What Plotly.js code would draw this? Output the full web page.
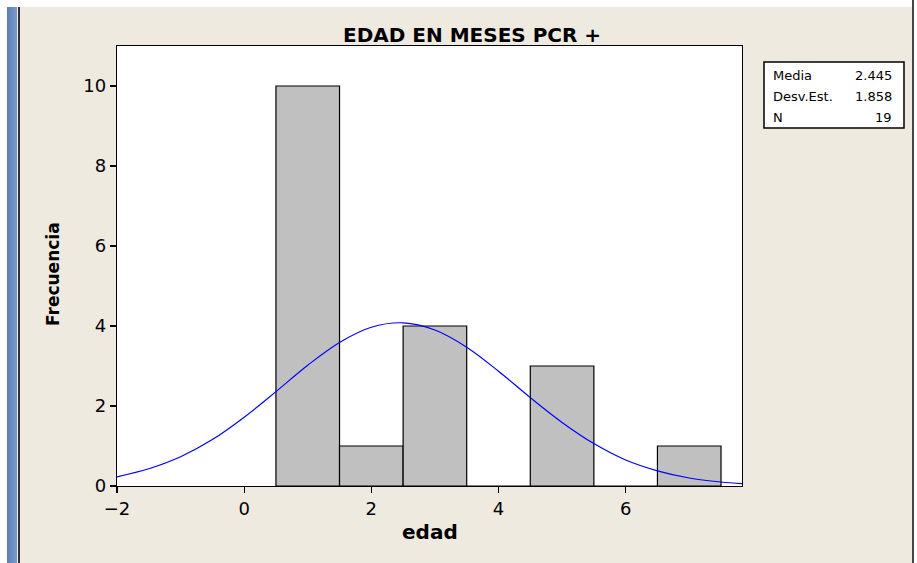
<!DOCTYPE html>
<html>
<head>
<meta charset="utf-8">
<script src="https://cdn.plot.ly/plotly-3.0.1.min.js"></script>
<style>
  html, body { margin:0; padding:0; background:#EEEAE0; }
  #wrap { position:relative; width:917px; height:563px; overflow:hidden; background:#EEEAE0; }
  #chart { position:absolute; left:0; top:0; width:917px; height:563px; }
  .deco { position:absolute; }
</style>
</head>
<body>
<div id="wrap">
  <div id="chart"></div>
  <div class="deco" style="left:0;top:0;width:917px;height:7px;background:#FFFFFF;"></div>
  <div class="deco" style="left:0;top:0;width:7px;height:563px;background:#FFFFFF;"></div>
  <div class="deco" style="left:7px;top:7px;width:10px;height:556px;background:linear-gradient(to right,#5A7FB5,#7C9CCB);"></div>
  <div class="deco" style="left:18px;top:7px;width:2px;height:556px;background:#333333;"></div>
  <div class="deco" style="left:912px;top:0;width:2px;height:563px;background:#444444;"></div>
  <div class="deco" style="left:914px;top:0;width:3px;height:563px;background:#FFFFFF;"></div>
</div>
<script>
// Histogram bins (centres) and counts
const binCenters = [1, 2, 3, 4, 5, 6, 7];
const counts = [10, 1, 4, 0, 3, 0, 1];

// Fitted normal curve
const curveX = [-2, -1.5, -1, -0.5, 0, 0.5, 1, 1.5, 2, 2.5, 3, 3.5, 4, 4.5, 5, 5.5, 6, 6.5, 7, 7.5, 7.83];
const curveY = [0.23, 0.43, 0.73, 1.16, 1.72, 2.36, 3.02, 3.59, 3.97, 4.08, 3.90, 3.47, 2.87, 2.21, 1.59, 1.06, 0.65, 0.38, 0.20, 0.10, 0.06];

// Stats box
const statLabels = ["Media", "Desv.Est.", "N"];
const statValues = ["2.445", "1.858", "19"];

const chartTitle = "EDAD EN MESES PCR +";
const xTitle = "edad";
const yTitle = "Frecuencia";

const L = 117, R = 742, T = 46, B = 486;
const px = x => (x - L) / (R - L);
const py = y => (B - y) / (B - T);

const font = "Tahoma, 'DejaVu Sans', sans-serif";

const traces = [
  {
    type: 'bar', x: binCenters, y: counts, width: 1,
    marker: { color: '#C0C0C0', line: { color: '#000000', width: 1.2 } },
    hoverinfo: 'skip'
  },
  {
    type: 'scatter', mode: 'lines', x: curveX, y: curveY,
    line: { color: '#0000FF', width: 1.2, shape: 'spline' },
    hoverinfo: 'skip'
  }
];

const annotations = [
  { text: '<b>' + chartTitle + '</b>', xref: 'paper', yref: 'paper', x: px(472), y: py(35), showarrow: false,
    font: { family: font, size: 20, color: '#000' }, xanchor: 'center', yanchor: 'middle' },
  { text: '<b>' + xTitle + '</b>', xref: 'paper', yref: 'paper', x: px(430), y: py(532), showarrow: false,
    font: { family: font, size: 20, color: '#000' }, xanchor: 'center', yanchor: 'middle' },
  { text: '<b>' + yTitle + '</b>', xref: 'paper', yref: 'paper', x: px(53), y: py(274), showarrow: false, textangle: -90,
    font: { family: font, size: 17, color: '#000' }, xanchor: 'center', yanchor: 'middle' }
];
const rowY = [75, 96, 117];
statLabels.forEach((s, i) => {
  annotations.push({ text: statLabels[i], xref: 'paper', yref: 'paper', x: px(771), y: py(rowY[i]), showarrow: false,
    font: { family: font, size: 13, color: '#000' }, xanchor: 'left', yanchor: 'middle' });
  annotations.push({ text: statValues[i], xref: 'paper', yref: 'paper', x: px(894), y: py(rowY[i]), showarrow: false,
    font: { family: font, size: 13, color: '#000' }, xanchor: 'right', yanchor: 'middle' });
});

const layout = {
  width: 917, height: 563,
  margin: { l: L, r: 917 - R, t: T, b: 563 - B, pad: 0 },
  paper_bgcolor: '#EEEAE0', plot_bgcolor: '#FFFFFF',
  showlegend: false,
  bargap: 0,
  xaxis: {
    range: [-2, 7.83], dtick: 2, tick0: 0, showgrid: false, zeroline: false,
    showline: true, mirror: true, linecolor: '#000', linewidth: 1.2,
    ticks: 'outside', ticklen: 6, tickcolor: '#000', tickwidth: 1.2,
    tickfont: { family: font, size: 18, color: '#000' }
  },
  yaxis: {
    range: [0, 11], dtick: 2, tick0: 0, showgrid: false, zeroline: false,
    showline: true, mirror: true, linecolor: '#000', linewidth: 1.2,
    ticks: 'outside', ticklen: 6, tickcolor: '#000', tickwidth: 1.2,
    tickfont: { family: font, size: 18, color: '#000' }
  },
  shapes: [
    { type: 'rect', xref: 'paper', yref: 'paper', x0: px(764), x1: px(904), y0: py(62), y1: py(128),
      line: { color: '#000', width: 1.5 }, fillcolor: '#FFFFFF', layer: 'below' }
  ],
  annotations: annotations
};

Plotly.newPlot('chart', traces, layout, { displayModeBar: false, staticPlot: true });
</script>
</body>
</html>
